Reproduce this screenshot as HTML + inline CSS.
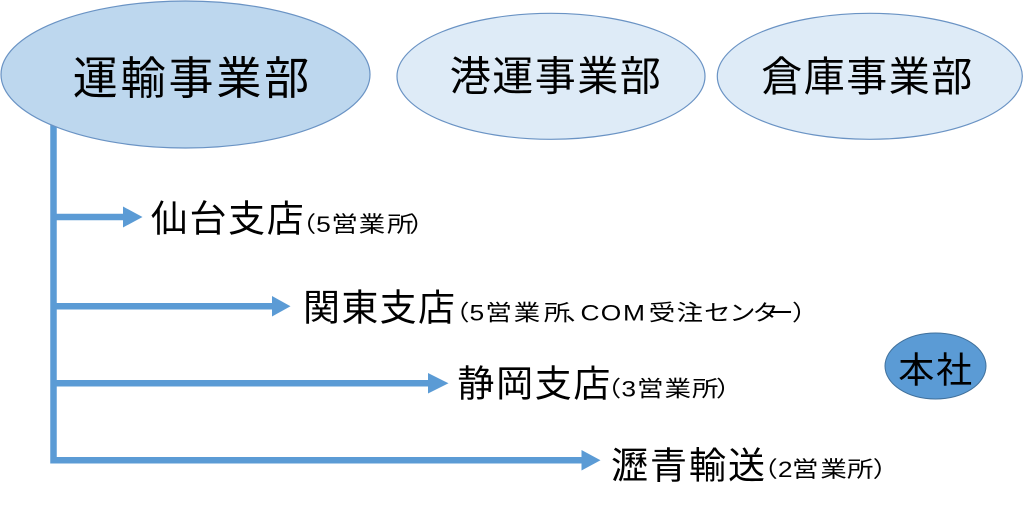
<!DOCTYPE html>
<html>
<head>
<meta charset="utf-8">
<style>
html,body{margin:0;padding:0;background:#ffffff;}
body{width:1024px;height:508px;overflow:hidden;}
svg{display:block;}
text{font-family:"Liberation Sans","Noto Sans CJK JP",sans-serif;fill:#000;}
</style>
</head>
<body>
<svg width="1024" height="508" viewBox="0 0 1024 508" xmlns="http://www.w3.org/2000/svg">
  <!-- connectors -->
  <g fill="none" stroke="#5b9bd5" stroke-width="6.5" stroke-linejoin="miter" stroke-linecap="butt">
    <path d="M53.5 118 V460.3 H583"/>
    <path d="M53.5 217 H124"/>
    <path d="M53.5 306.3 H273"/>
    <path d="M53.5 383.3 H429"/>
  </g>
  <g fill="#5b9bd5">
    <polygon points="123,206.5 142.5,217 123,227.5"/>
    <polygon points="272,296 290.5,306.3 272,316.5"/>
    <polygon points="428,373 448.5,383.3 428,393.5"/>
    <polygon points="581.5,450 600.5,460.3 581.5,470.5"/>
  </g>

  <!-- ellipses -->
  <ellipse cx="185.5" cy="74.5" rx="184.5" ry="73.5" fill="#bdd7ee" stroke="#6a93c4" stroke-width="1.2"/>
  <ellipse cx="551" cy="76.3" rx="154" ry="63" fill="#deebf7" stroke="#6a93c4" stroke-width="1.2"/>
  <ellipse cx="869.8" cy="76.3" rx="152.5" ry="63" fill="#deebf7" stroke="#6a93c4" stroke-width="1.2"/>
  <ellipse cx="935.5" cy="366" rx="50.5" ry="33" fill="#5b9bd5" stroke="#41719c" stroke-width="1"/>

  <!-- ellipse labels -->
  <text x="72.7" y="93.9" font-size="45" textLength="236.5" lengthAdjust="spacing">運輸事業部</text>
  <text x="449.7" y="90.4" font-size="41" textLength="211" lengthAdjust="spacing">港運事業部</text>
  <text x="761.3" y="91" font-size="41" textLength="211" lengthAdjust="spacing">倉庫事業部</text>
  <text x="898.2" y="382.5" font-size="36" textLength="74" lengthAdjust="spacing">本社</text>

  <!-- branch labels -->
  <text x="150.8" y="231.7" font-size="37" textLength="153" lengthAdjust="spacing">仙台支店</text>
  <text x="303" y="320.7" font-size="37" textLength="152" lengthAdjust="spacing">関東支店</text>
  <text x="457.4" y="396.7" font-size="37" textLength="153" lengthAdjust="spacing">静岡支店</text>
  <text x="611" y="478.4" font-size="37" textLength="154" lengthAdjust="spacing">瀝青輸送</text>

  <!-- small annotations (horizontally stretched 1.2x; x coords are screen/1.2) -->
  <g transform="scale(1.2,1)">
    <text y="231.8" font-size="22" x="241.5 263.5 276.2 299.0 322.5 341.1">（5営業所）</text>
    <text y="320.7" font-size="22" x="369.3 391.2 404.5 428.1 453.1 471.2 483.8 500.6 519.2 540.6 563.9 586.8 607.6 627.0 639.5 660.0">（5営業所、COM受注センター）</text>
    <text y="396.7" font-size="22" x="495.6 517.8 530.8 553.9 576.7 596.7">（3営業所）</text>
    <text y="477.2" font-size="22" x="626.2 648.2 660.0 683.7 705.8 727.3">（2営業所）</text>
  </g>
</svg>
</body>
</html>
